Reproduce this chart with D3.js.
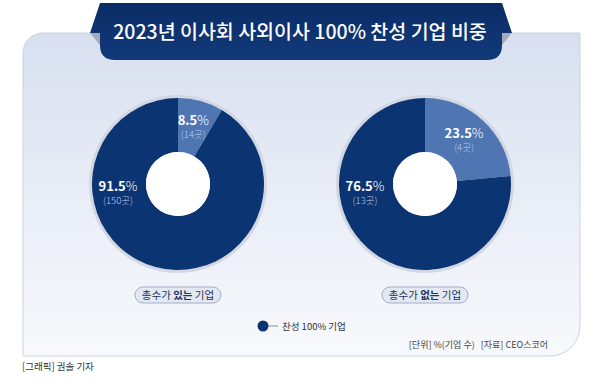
<!DOCTYPE html>
<html><head><meta charset="utf-8">
<script src="https://cdn.jsdelivr.net/npm/d3@7"></script>
<style>
html,body{margin:0;padding:0;background:#fff;}
svg{display:block;font-family:"Noto Sans CJK KR","Noto Sans",sans-serif;}
</style></head>
<body>
<svg id="chart" width="600" height="381"></svg>
<script>
const title = "2023년 이사회 사외이사 100% 찬성 기업 비중";
const groupPre = ["총수가 ", "총수가 "];
const groupKey = ["있는", "없는"];
const groupPost = [" 기업", " 기업"];
const agreePct = [91.5, 76.5];
const agreeCount = [150, 13];
const otherPct = [8.5, 23.5];
const otherCount = [14, 4];
const legendLabel = "찬성 100% 기업";
const sourceText = "[단위] %(기업 수)   [자료] CEO스코어";
const creditText = "[그래픽] 권솔 기자";

const svg = d3.select("#chart");
const defs = svg.append("defs");
const pg = defs.append("linearGradient").attr("id","pg").attr("x1",0).attr("y1",0).attr("x2",0).attr("y2",1);
pg.append("stop").attr("offset","0%").attr("stop-color","#d8e0f0");
pg.append("stop").attr("offset","100%").attr("stop-color","#f8f9fc");
const bg = defs.append("linearGradient").attr("id","bg").attr("x1",0).attr("y1",0).attr("x2",0).attr("y2",1);
bg.append("stop").attr("offset","0%").attr("stop-color","#0a2c66");
bg.append("stop").attr("offset","100%").attr("stop-color","#123a7a");

// panel
svg.append("path")
  .attr("d","M23,356 L23,53 A20,20 0 0 1 43,33 L580,33 L580,326 A30,30 0 0 1 550,356 Z")
  .attr("fill","url(#pg)").attr("stroke","#c9d1e2").attr("stroke-width",1);

// banner
svg.append("path")
  .attr("d","M100,3 L502,3 L512,33 L502,33 L502,45 Q502,60 487,60 L115,60 Q100,60 100,45 L100,33 L90,33 Z")
  .attr("fill","url(#bg)");
svg.append("path").attr("d","M90,33 L100,33 L100,45 Z").attr("fill","#a3abb9");
svg.append("path").attr("d","M512,33 L502,33 L502,45 Z").attr("fill","#a3abb9");
svg.append("text").attr("x",300).attr("y",39).attr("text-anchor","middle")
  .attr("fill","#fff").attr("font-size",19.5).attr("font-weight",500).text(title);

const darkC = "#0b3472", lightC = "#4f76b3";
const centers = [{x:178,y:184},{x:425,y:184}];
const outerR = 86, innerR = 32;
const pie = d3.pie().sort(null).value(d=>d.v);
const arc = d3.arc().innerRadius(innerR).outerRadius(outerR);
const labelArc = d3.arc().innerRadius(58).outerRadius(58);

centers.forEach((c,i)=>{
  const g = svg.append("g").attr("transform",`translate(${c.x},${c.y})`);
  g.append("circle").attr("r",outerR+1.5).attr("fill","none").attr("stroke","#d2d7e1").attr("stroke-width",3);
  const data = [{v:otherPct[i], n:otherCount[i], c:lightC},{v:agreePct[i], n:agreeCount[i], c:darkC}];
  const arcs = pie(data);
  g.selectAll("path.s").data(arcs).join("path").attr("class","s")
    .attr("d",arc).attr("fill",d=>d.data.c);
  g.append("circle").attr("r",innerR).attr("fill","#fff");

  arcs.forEach((a,j)=>{
    let px, py;
    if(j===0){ [px,py] = labelArc.centroid(a); }
    else { px = -60; py = 10; }
    const t1 = g.append("text").attr("x",px).attr("y",py-3).attr("text-anchor","middle")
      .attr("fill","#fff").attr("font-size",13);
    t1.append("tspan").attr("font-weight",700).text(a.data.v.toFixed(1));
    t1.append("tspan").attr("font-weight",300).text("%");
    g.append("text").attr("x",px).attr("y",py+10).attr("text-anchor","middle")
      .attr("fill","#bcc9e2").attr("font-size",9.5).attr("font-weight",300)
      .text("(" + a.data.n + "곳)");
  });

  // pill label
  const pg2 = svg.append("g").attr("transform",`translate(${c.x},295)`);
  pg2.append("rect").attr("x",-43).attr("y",-8).attr("width",86).attr("height",16).attr("rx",8)
    .attr("fill","#e3e9f3").attr("stroke","#a4afc4").attr("stroke-width",1);
  const pt = pg2.append("text").attr("y",4).attr("text-anchor","middle")
    .attr("fill","#1d3561").attr("font-size",10.5);
  pt.append("tspan").text(groupPre[i]);
  pt.append("tspan").attr("font-weight",700).text(groupKey[i]);
  pt.append("tspan").text(groupPost[i]);
});

// legend
svg.append("line").attr("x1",264).attr("x2",278).attr("y1",326).attr("y2",326)
  .attr("stroke","#8a93a3").attr("stroke-width",1);
svg.append("circle").attr("cx",263).attr("cy",326).attr("r",5.5).attr("fill",darkC);
svg.append("text").attr("x",282).attr("y",329.5).attr("font-size",9.5).attr("fill","#333")
  .text(legendLabel);

svg.append("text").attr("x",548).attr("y",347.5).attr("text-anchor","end")
  .attr("font-size",9).attr("fill","#444").attr("xml:space","preserve").text(sourceText);
svg.append("text").attr("x",22).attr("y",370).attr("font-size",9.5).attr("fill","#333").text(creditText);
</script>
</body></html>
